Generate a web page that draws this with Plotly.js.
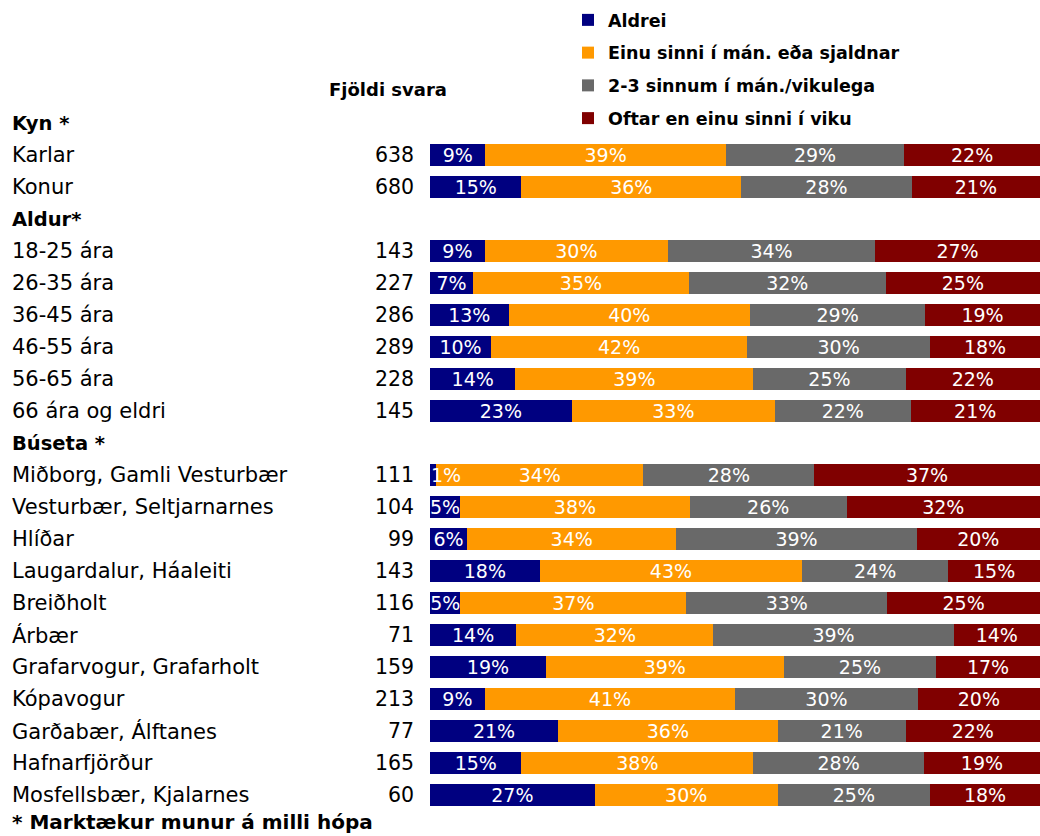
<!DOCTYPE html>
<html>
<head>
<meta charset="utf-8">
<script src="https://cdn.plot.ly/plotly-3.0.1.min.js"></script>
<style>html,body{margin:0;padding:0;background:#fff;}#chart{width:1040px;height:836px;}</style>
</head>
<body>
<div id="chart"></div>
<script>
// Row labels (header rows are bold and have no bar)
var categories = ["Kyn *","Karlar","Konur","Aldur*","18-25 ára","26-35 ára","36-45 ára","46-55 ára","56-65 ára","66 ára og eldri","Búseta *","Miðborg, Gamli Vesturbær","Vesturbær, Seltjarnarnes","Hlíðar","Laugardalur, Háaleiti","Breiðholt","Árbær","Grafarvogur, Grafarholt","Kópavogur","Garðabær, Álftanes","Hafnarfjörður","Mosfellsbær, Kjalarnes"];
var isHeader = [true,false,false,true,false,false,false,false,false,false,true,false,false,false,false,false,false,false,false,false,false,false];
var counts = [null,638,680,null,143,227,286,289,228,145,null,111,104,99,143,116,71,159,213,77,165,60];
var seriesNames = ["Aldrei","Einu sinni í mán. eða sjaldnar","2-3 sinnum í mán./vikulega","Oftar en einu sinni í viku"];
var aldrei  = [null,9,15,null,9,7,13,10,14,23,null,1,5,6,18,5,14,19,9,21,15,27];
var einu    = [null,39,36,null,30,35,40,42,39,33,null,34,38,34,43,37,32,39,41,36,38,30];
var tvo     = [null,29,28,null,34,32,29,30,25,22,null,28,26,39,24,33,39,25,30,21,28,25];
var oftar   = [null,22,21,null,27,25,19,18,22,21,null,37,32,20,15,25,14,17,20,22,19,18];
var seriesValues = [aldrei, einu, tvo, oftar];
var colors = ["#000080","#FF9900","#696969","#800000"];

var FONT = "DejaVu Sans";
var TINY = 3; // labels of segments narrower than this are placed from the segment start
var L = 430, T = 107, W = 610, H = 704;
function px2x(px){ return (px - L) / W; }
function py2y(py){ return 1 - (py - T) / H; }

var annotations = [];
var rowTotals = categories.map(function(c, r){
  var s = 0; seriesValues.forEach(function(v){ if (v[r] !== null) s += v[r]; }); return s;
});

var traces = seriesValues.map(function(vals, i){
  var texts = vals.map(function(v, r){
    if (v === null) return "";
    if (v < TINY) {
      var start = 0;
      for (var k = 0; k < i; k++) start += seriesValues[k][r];
      annotations.push({xref: "x", yref: "y", x: start / rowTotals[r] * 100, y: categories[r],
        xanchor: "left", yanchor: "middle", text: v + "%", showarrow: false, borderpad: 0,
        font: {family: FONT, size: 19, color: "#ffffff"}});
      return "";
    }
    return v + "%";
  });
  return {
    type: "bar", orientation: "h", name: "<b>" + seriesNames[i] + "</b>",
    y: categories, x: vals, text: texts,
    textposition: "inside", insidetextanchor: "middle", textangle: 0,
    constraintext: "none", cliponaxis: false,
    insidetextfont: {family: FONT, size: 19, color: "#ffffff"},
    marker: {color: colors[i], line: {width: 0}},
    legendgroup: "g" + i, hoverinfo: "skip"
  };
});

categories.forEach(function(c, i){
  annotations.push({
    xref: "paper", yref: "y", x: px2x(11), y: c, xanchor: "left", yanchor: "middle",
    text: isHeader[i] ? "<b>" + c + "</b>" : c, showarrow: false, borderpad: 0,
    font: {family: FONT, size: isHeader[i] ? 19.5 : 21, color: "#000"}
  });
  if (counts[i] !== null) {
    annotations.push({
      xref: "paper", yref: "y", x: px2x(415), y: c, xanchor: "right", yanchor: "middle",
      text: String(counts[i]), showarrow: false, borderpad: 0,
      font: {family: FONT, size: 20.5, color: "#000"}
    });
  }
});
annotations.push({xref: "paper", yref: "paper", x: px2x(388), y: py2y(90), xanchor: "center", yanchor: "middle",
  text: "<b>Fjöldi svara</b>", showarrow: false, font: {family: FONT, size: 18, color: "#000"}});
annotations.push({xref: "paper", yref: "paper", x: px2x(11), y: py2y(835), xanchor: "left", yanchor: "bottom",
  text: "<b>* Marktækur munur á milli hópa</b>", showarrow: false, borderpad: 0,
  font: {family: FONT, size: 20, color: "#000"}});

var layout = {
  width: 1040, height: 836,
  margin: {l: L, r: 0, t: T, b: 836 - T - H, pad: 0},
  paper_bgcolor: "#fff", plot_bgcolor: "#fff",
  barmode: "stack", barnorm: "percent", bargap: 0.31,
  xaxis: {range: [0, 100.02], visible: false, fixedrange: true},
  yaxis: {type: "category", categoryarray: categories, categoryorder: "array", autorange: "reversed",
          showticklabels: false, showgrid: false, zeroline: false, showline: false, ticks: ""},
  showlegend: true,
  legend: {x: px2x(568), y: py2y(2), xanchor: "left", yanchor: "top", traceorder: "grouped",
           tracegroupgap: 7, font: {family: FONT, size: 17.5, color: "#000"}, bgcolor: "rgba(0,0,0,0)",
           itemclick: false, itemdoubleclick: false},
  annotations: annotations
};

Plotly.newPlot("chart", traces, layout, {displayModeBar: false, staticPlot: true});
</script>
</body>
</html>
